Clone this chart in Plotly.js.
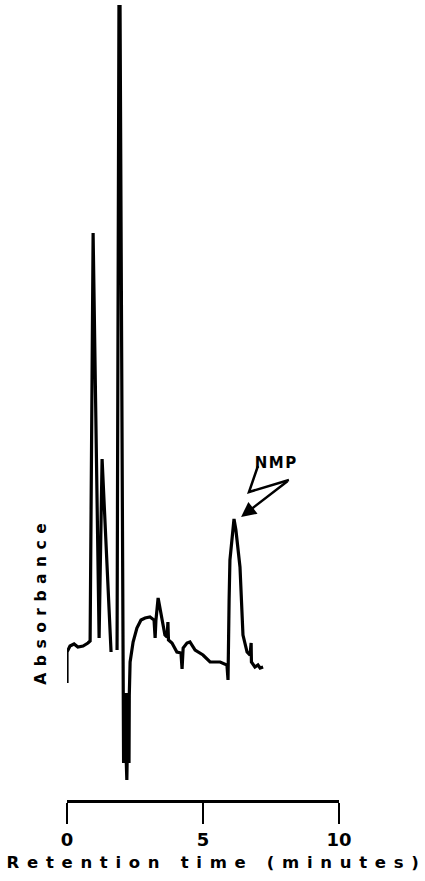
<!DOCTYPE html>
<html>
<head>
<meta charset="utf-8">
<script src="https://cdn.plot.ly/plotly-3.0.1.min.js"></script>
<style>
html, body { margin: 0; padding: 0; background: #fff; }
#chart { width: 425px; height: 881px; }
</style>
</head>
<body>
<div id="chart"></div>
<script>
// Retention time (minutes)
var times = [0, 0, 0.11, 0.26, 0.40, 0.59, 0.77, 0.85, 0.96, 1.18, 1.29, 1.62, null,
  1.84, 1.91, 1.95, 2.06, 2.08, 2.10, 2.12, 2.14, 2.16, 2.18, 2.20, 2.21, 2.22, 2.24,
  2.26, 2.28, 2.29, 2.32, 2.43, 2.57,
  2.72, 2.87, 3.05, 3.20, 3.24, 3.27, 3.35, 3.49, 3.60, 3.68, 3.71, 3.73, 3.86, 4.04,
  4.19, 4.23, 4.27, 4.41, 4.52, 4.71, 5.00, 5.26, 5.63, 5.88, 5.92, 5.96, 5.99, 6.14,
  6.21, 6.36, 6.47, 6.62, 6.73, 6.77, 6.78, 6.91, 7.02, 7.10, 7.21];
// Absorbance (arbitrary units)
var absorbance = [1.17, 1.48, 1.54, 1.56, 1.53, 1.54, 1.57, 1.59, 5.67, 1.62, 3.41, 1.48, null,
  1.50, 7.95, 7.95, 1.07, 0.37, 1.07, 0.37, 1.07, 0.37, 0.37, 0.20, 0.37, 1.07, 0.37,
  1.07, 0.37, 1.05, 1.38, 1.58, 1.72,
  1.80, 1.82, 1.83, 1.80, 1.62, 1.80, 2.02, 1.80, 1.65, 1.63, 1.78, 1.60, 1.57, 1.48,
  1.47, 1.31, 1.52, 1.57, 1.58, 1.50, 1.45, 1.38, 1.38, 1.35, 1.20, 2.00, 2.40, 2.81,
  2.70, 2.33, 1.65, 1.48, 1.45, 1.57, 1.38, 1.33, 1.35, 1.32, 1.33];
var tickValues = [0, 5, 10];
var tickLabels = ['0', '5', '10'];
var xTitle = 'Retention time (minutes)';
var yTitle = 'Absorbance';
var peakLabel = 'NMP';
var peakTime = 6.40, peakAbs = 2.83;

var trace = {
  x: times, y: absorbance, type: 'scatter', mode: 'lines',
  line: {color: '#000', width: 3.2}, connectgaps: false, hoverinfo: 'skip'
};

var FAM = 'DejaVu Sans, sans-serif';

var layout = {
  width: 425, height: 881,
  margin: {l: 67, r: 86, t: 5, b: 81},
  paper_bgcolor: '#fff', plot_bgcolor: '#fff',
  showlegend: false,
  xaxis: {
    range: [0, 10], tickvals: tickValues, ticktext: tickLabels,
    ticks: 'outside', ticklen: 21, tickwidth: 2.5, tickcolor: '#000',
    showline: true, linewidth: 3, linecolor: '#000',
    showgrid: false, zeroline: false, fixedrange: true,
    tickfont: {family: FAM, size: 18, color: '#000', weight: 'bold'}
  },
  yaxis: {range: [0, 7.95], visible: false, fixedrange: true},
  shapes: [{
    type: 'path', xref: 'x', yref: 'y',
    path: 'M 7.02 3.34 L 6.69 3.08 L 8.16 3.20',
    line: {color: '#000', width: 2.5}
  }],
  annotations: [
    {
      xref: 'paper', yref: 'paper', x: 0.548, y: -0.078, text: '<b>' + xTitle + '</b>',
      showarrow: false, xanchor: 'center', yanchor: 'middle',
      font: {family: FAM, size: 16.5, color: '#000'}
    },
    {
      xref: 'paper', yref: 'y', x: -0.095, y: 1.99, text: '<b>' + yTitle + '</b>',
      textangle: -90, showarrow: false, xanchor: 'center', yanchor: 'middle',
      font: {family: FAM, size: 15.5, color: '#000'}
    },
    {
      xref: 'x', yref: 'y', x: 7.70, y: 3.37, text: '<b>' + peakLabel + '</b>', showarrow: false,
      xanchor: 'center', yanchor: 'middle', font: {family: FAM, size: 15, color: '#000'}
    },
    {
      xref: 'x', yref: 'y', axref: 'x', ayref: 'y',
      x: peakTime, y: peakAbs, ax: 8.16, ay: 3.20, text: '',
      showarrow: true, arrowhead: 2, arrowsize: 1.2, arrowwidth: 2.5, arrowcolor: '#000'
    }
  ]
};

Plotly.newPlot('chart', [trace], layout, {staticPlot: true}).then(function () {
  document.querySelectorAll('.annotation-text').forEach(function (t) {
    var s = t.textContent;
    if (s === xTitle) t.style.letterSpacing = '7.7px';
    if (s === yTitle) t.style.letterSpacing = '6.5px';
    if (s === peakLabel) t.style.letterSpacing = '1.5px';
  });
  document.querySelectorAll('.xtick text').forEach(function (t) {
    t.style.fontWeight = 'bold';
    t.style.fontSize = '18px';
    t.style.fontFamily = FAM;
  });
});
</script>
</body>
</html>
